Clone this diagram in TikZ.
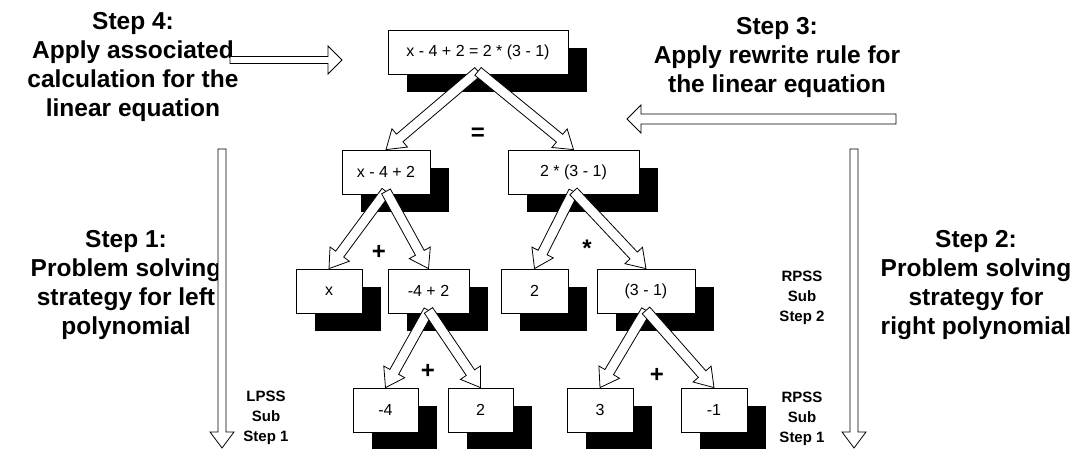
\documentclass[tikz,border=0pt]{standalone}
\usepackage{fontspec}
\setmainfont{Liberation Sans}
\usetikzlibrary{
  calc,
  shadows
}
\tikzset{
  exprbox/.style={
    draw, fill=white, line width=0.8pt,
    minimum height=44pt, inner sep=0pt,
    font=\fontsize{16}{19}\selectfont,
    drop shadow={shadow xshift=19pt, shadow yshift=-18pt, fill=black, opacity=1}
  },
  opsign/.style={font=\bfseries\fontsize{24}{24}\selectfont, inner sep=0pt},
  steptext/.style={align=center, inner sep=0pt, font=\bfseries\fontsize{24.5}{29}\selectfont},
  subtext/.style={align=center, inner sep=0pt, font=\bfseries\fontsize{15}{20}\selectfont},
  hollow/.style={draw=black, fill=white, line width=0.8pt, line join=miter}
}
% block arrow: start, tip, shaft half width, head half width, head length
\newcommand{\hollowarrow}[5]{%
  \coordinate (ha-a) at (#1);
  \coordinate (ha-b) at (#2);
  \coordinate (ha-c) at ($(ha-b)!#5!(ha-a)$);
  \draw[hollow]
    ($(ha-a)!#3!90:(ha-b)$) -- ($(ha-c)!#3!-90:(ha-a)$) -- ($(ha-c)!#4!-90:(ha-a)$) -- (ha-b)
    -- ($(ha-c)!#4!90:(ha-a)$) -- ($(ha-c)!#3!90:(ha-a)$) -- ($(ha-a)!#3!-90:(ha-b)$) -- cycle;
}
\begin{document}
\begin{tikzpicture}[x=1pt, y=-1pt]
\useasboundingbox (0,0) rectangle (1080,449);

% expression tree
\node[exprbox, minimum width=180pt] (eq) at (478,52) {x - 4 + 2 = 2 * (3 - 1)};
\node[exprbox, minimum width=88pt] (lhs) at (386,172) {x - 4 + 2};
\node[exprbox, minimum width=131pt] (rhs) at (573.5,172) {2 * (3 - 1)};
\node[exprbox, minimum width=66pt] (lx) at (329,291) {x};
\node[exprbox, minimum width=81pt] (lsum) at (428.5,291) {-4 + 2};
\node[exprbox, minimum width=67pt] (rtwo) at (534.5,291) {2};
\node[exprbox, minimum width=98pt] (rdiff) at (646,291) {(3 - 1)};
\node[exprbox, minimum width=65pt] (lfour) at (385.5,410) {-4};
\node[exprbox, minimum width=65pt] (ltwo) at (480.5,410) {2};
\node[exprbox, minimum width=66pt] (rthree) at (600,410) {3};
\node[exprbox, minimum width=66pt] (rone) at (714,410) {-1};

\node[opsign] (opeq) at (478,134) {=};
\node[opsign] (opl) at (379,252) {+};
\node[opsign] (opr) at (587,248) {*};
\node[opsign] (opll) at (428,371) {+};
\node[opsign] (oprr) at (657,375) {+};

\hollowarrow{[yshift=3pt]eq.south}{lhs.north}{5pt}{12pt}{18pt}
\hollowarrow{[yshift=3pt]eq.south}{rhs.north}{5pt}{12pt}{18pt}
\hollowarrow{[yshift=3pt]lhs.south}{lx.north}{5pt}{12pt}{18pt}
\hollowarrow{[yshift=3pt]lhs.south}{lsum.north}{5pt}{12pt}{18pt}
\hollowarrow{[yshift=3pt]rhs.south}{rtwo.north}{5pt}{12pt}{18pt}
\hollowarrow{[yshift=3pt]rhs.south}{rdiff.north}{5pt}{12pt}{18pt}
\hollowarrow{[yshift=3pt]lsum.south}{lfour.north}{5pt}{12pt}{18pt}
\hollowarrow{[yshift=3pt]lsum.south}{ltwo.north}{5pt}{12pt}{18pt}
\hollowarrow{[yshift=3pt]rdiff.south}{rthree.north}{5pt}{12pt}{18pt}
\hollowarrow{[yshift=3pt]rdiff.south}{rone.north}{5pt}{12pt}{18pt}

% steps
\node[steptext] (step4) at (133,67) {Step 4:\\Apply associated\\calculation for the\\linear equation};
\node[steptext] (step3) at (777,57) {Step 3:\\Apply rewrite rule for\\the linear equation};
\node[steptext] (step1) at (126,285) {Step 1:\\Problem solving\\strategy for left\\polynomial};
\node[steptext] (step2) at (976,285) {Step 2:\\Problem solving\\strategy for\\right polynomial};
\node[subtext] (lpss) at (266,418) {LPSS\\Sub\\Step 1};
\node[subtext] (rpss2) at (802,298) {RPSS\\Sub\\Step 2};
\node[subtext] (rpss1) at (802,419) {RPSS\\Sub\\Step 1};

\coordinate (s4tail) at (230,60);
\coordinate (s4tip) at (342,60);
\coordinate (s3tail) at (896,119);
\coordinate (s3tip) at (627,119);
\coordinate (s1tail) at (222,149);
\coordinate (s1tip) at (222,448);
\coordinate (s2tail) at (854,149);
\coordinate (s2tip) at (854,448);
\hollowarrow{s4tail}{s4tip}{3.5pt}{14pt}{14pt}
\hollowarrow{s3tail}{s3tip}{5pt}{14pt}{14pt}
\hollowarrow{s1tail}{s1tip}{4pt}{12pt}{16pt}
\hollowarrow{s2tail}{s2tip}{4pt}{12pt}{16pt}
\end{tikzpicture}
\end{document}
